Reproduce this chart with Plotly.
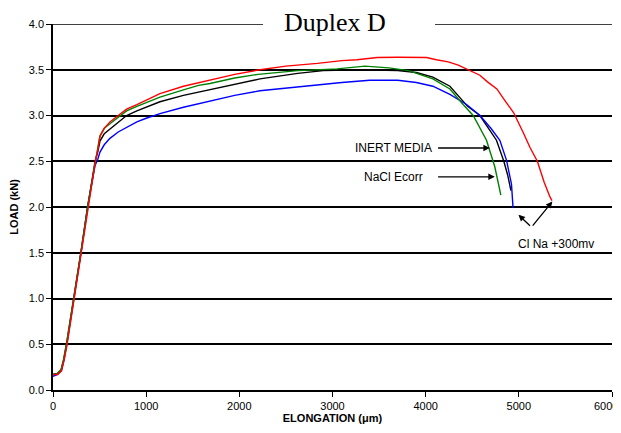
import plotly.graph_objects as go

# ---- data ----
red_x = [0, 50, 90, 118, 150, 228, 303, 375, 455, 480, 504, 550, 611, 700, 790, 900, 1000, 1148,
         1400, 1685, 1950, 2221, 2500, 2838, 3100, 3264, 3480, 3700, 4009, 4115, 4243, 4350, 4460,
         4582, 4660, 4764, 4860, 4945, 5053, 5120, 5199, 5272, 5330, 5355]
red_y = [0.17, 0.17, 0.21, 0.32, 0.49, 1.0, 1.5, 1.99, 2.5, 2.62, 2.77, 2.86, 2.93, 3.0, 3.07, 3.12,
         3.17, 3.24, 3.32, 3.39, 3.45, 3.5, 3.54, 3.57, 3.6, 3.61, 3.634, 3.636, 3.634, 3.61, 3.586,
         3.55, 3.5, 3.44, 3.37, 3.29, 3.15, 3.03, 2.8, 2.65, 2.5, 2.27, 2.12, 2.07]

green_x = [0, 45, 85, 112, 143, 222, 298, 370, 450, 480, 504, 550, 611, 700, 790, 900, 1000, 1148,
           1400, 1562, 1685, 1950, 2200, 2626, 3051, 3349, 3604, 3817, 4077, 4260, 4402, 4510,
           4653, 4742, 4807]
green_y = [0.17, 0.18, 0.22, 0.33, 0.5, 1.0, 1.5, 2.0, 2.5, 2.64, 2.78, 2.86, 2.91, 2.98, 3.05,
           3.1, 3.14, 3.2, 3.28, 3.33, 3.35, 3.41, 3.45, 3.49, 3.51, 3.54, 3.52, 3.49, 3.40, 3.29,
           3.12, 3.0, 2.73, 2.44, 2.13]

black_x = [0, 48, 88, 115, 146, 225, 300, 372, 452, 480, 504, 550, 611, 700, 790, 900, 1000, 1148,
           1400, 1685, 1950, 2221, 2626, 2900, 3300, 3700, 3900, 4077, 4260, 4367, 4450, 4582,
           4670, 4760, 4839, 4880, 4915]
black_y = [0.17, 0.18, 0.22, 0.33, 0.5, 1.0, 1.5, 2.0, 2.5, 2.6, 2.72, 2.8, 2.85, 2.93, 3.0, 3.05,
           3.09, 3.15, 3.22, 3.28, 3.34, 3.40, 3.46, 3.49, 3.5, 3.49, 3.47, 3.42, 3.32, 3.2, 3.1,
           3.0, 2.87, 2.73, 2.5, 2.35, 2.18]

blue_x = [0, 50, 90, 118, 148, 226, 300, 372, 450, 480, 504, 550, 611, 700, 790, 900, 1000, 1148,
          1400, 1685, 1950, 2221, 2500, 2838, 3100, 3400, 3700, 3900, 4077, 4260, 4439, 4583,
          4700, 4796, 4868, 4921, 4935, 4938]
blue_y = [0.15, 0.17, 0.21, 0.33, 0.5, 1.0, 1.5, 2.0, 2.45, 2.52, 2.6, 2.68, 2.75, 2.82, 2.87,
          2.93, 2.97, 3.02, 3.09, 3.16, 3.22, 3.27, 3.3, 3.33, 3.36, 3.385, 3.385, 3.36, 3.32,
          3.23, 3.12, 3.0, 2.86, 2.73, 2.51, 2.25, 2.1, 1.99]

x_ticks = [0, 1000, 2000, 3000, 4000, 5000, 6000]
x_tick_labels = ["0", "1000", "2000", "3000", "4000", "5000", "6000"]
y_ticks = [0.0, 0.5, 1.0, 1.5, 2.0, 2.5, 3.0, 3.5, 4.0]

title_text = "Duplex D"
x_title = "ELONGATION (μm)"
y_title = "LOAD (kN)"

FONT = "Liberation Sans, Arial, sans-serif"

fig = go.Figure()
for xs, ys, col in [(black_x, black_y, "#000000"), (blue_x, blue_y, "#0000FF"),
                    (green_x, green_y, "#008000"), (red_x, red_y, "#FF0000")]:
    fig.add_trace(go.Scatter(x=xs, y=ys, mode="lines", line=dict(color=col, width=1.4),
                             showlegend=False, hoverinfo="skip", cliponaxis=False))

fig.update_layout(
    width=613, height=425,
    margin=dict(l=45, r=9, t=16, b=43, autoexpand=False),
    paper_bgcolor="white", plot_bgcolor="white",
    font=dict(family=FONT, size=11, color="black"),
    showlegend=False,
)
# last tick label is drawn separately (right-aligned) so it stays inside the page
fig.update_xaxes(range=[0, 6000], tickvals=x_ticks, ticktext=x_tick_labels[:-1] + [""],
                 showgrid=False, zeroline=False,
                 showline=True, linecolor="black", linewidth=1.6, automargin=False,
                 ticks="outside", ticklen=5, tickcolor="black", tickwidth=1.4,
                 tickfont=dict(size=11),
                 title=dict(text="<b>" + x_title + "</b>", font=dict(size=11), standoff=2))
fig.update_yaxes(range=[0, 4.0], tickvals=y_ticks, tickformat=".1f",
                 showgrid=True, gridcolor="black", gridwidth=1.6, zeroline=False,
                 showline=True, linecolor="black", linewidth=1.6, automargin=False,
                 ticks="outside", ticklen=5, tickcolor="black", tickwidth=1.4,
                 tickfont=dict(size=11),
                 title=dict(text="<b>" + y_title + "</b>", font=dict(size=11), standoff=8))
fig.add_annotation(text=x_tick_labels[-1], x=x_ticks[-1], xref="x", y=0, yref="paper",
                   xanchor="right", yanchor="middle", xshift=8, yshift=-16,
                   showarrow=False, font=dict(family=FONT, size=11, color="black"))

# top gridline at 4.0 (range edge)
fig.add_shape(type="line", xref="paper", yref="y", x0=0, x1=1, y0=4.0, y1=4.0,
              line=dict(color="black", width=1.6), layer="below")
# white box hiding the top gridline behind the title
fig.add_shape(type="rect", xref="paper", yref="paper", x0=0.3757, x1=0.6834, y0=0.985, y1=1.015,
              fillcolor="white", line=dict(width=0), layer="above")
fig.add_annotation(text=title_text, xref="paper", yref="paper", x=0.5045, y=1.004, yanchor="middle",
                   showarrow=False, font=dict(family="Liberation Serif, Times New Roman, serif", size=26))

# labels and arrows
ann_font = dict(family=FONT, size=12, color="black")
fig.add_annotation(text="INERT MEDIA", x=4085, y=2.645, xanchor="right", showarrow=False, font=ann_font)
fig.add_annotation(text="NaCl Ecorr", x=3990, y=2.33, xanchor="right", showarrow=False, font=ann_font)
fig.add_annotation(text="Cl Na +300mv", x=5397, y=1.60, showarrow=False, font=ann_font)

arrows = [((4117, 2.645), (4689, 2.645)), ((4117, 2.33), (4742, 2.33)),
          ((5136, 1.78), (4996, 1.915)), ((5136, 1.78), (5360, 2.06))]
for (tx, ty), (hx, hy) in arrows:
    fig.add_annotation(text="", x=hx, y=hy, ax=tx, ay=ty, xref="x", yref="y", axref="x", ayref="y",
                       showarrow=True, arrowhead=2, arrowsize=1, arrowwidth=1.3, arrowcolor="black")

fig.write_html("out.html")
